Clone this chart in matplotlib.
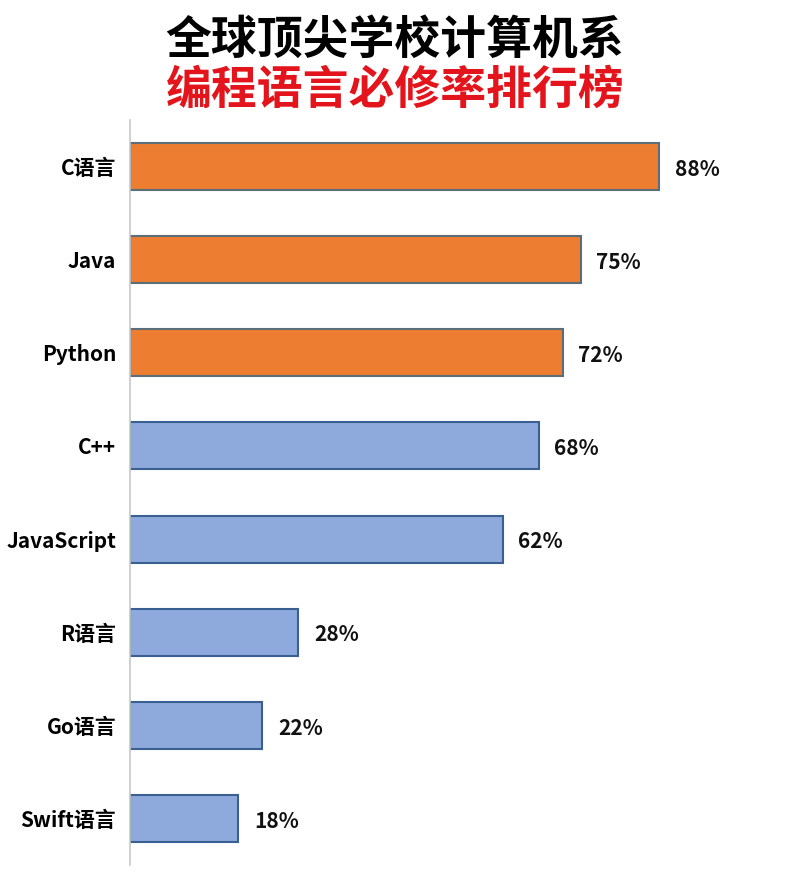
import matplotlib.pyplot as plt

plt.rcParams['font.family'] = ['Noto Sans CJK SC', 'DejaVu Sans']

languages = ['C语言', 'Java', 'Python', 'C++', 'JavaScript', 'R语言', 'Go语言', 'Swift语言']
rates = [88, 75, 72, 68, 62, 28, 22, 18]
top_group = [True, True, True, False, False, False, False, False]

fig = plt.figure(figsize=(7.9, 8.9), dpi=100)
W, H = 790, 890
# axes: x from 130 px to 790 px, y from 120 px to 865 px
ax = fig.add_axes([130 / W, 1 - 865 / H, 660 / W, 745 / H])

face = ['#ED7D31' if t else '#8EA9DB' for t in top_group]
edge = ['#5B6E7A' if t else '#3A5F92' for t in top_group]
ypos = list(range(len(languages)))
ax.barh(ypos, rates, height=0.505, color=face, edgecolor=edge, linewidth=1.5)

ax.set_xlim(0, 660 / 6.01)
ax.set_ylim(7.5, -0.5)
ax.set_yticks(ypos)
ax.set_yticklabels(languages, fontsize=15, fontweight='bold')
ax.tick_params(axis='y', length=0, pad=10)
ax.set_xticks([])
for s in ['top', 'right', 'bottom']:
    ax.spines[s].set_visible(False)
ax.spines['left'].set_color('#c8c8c8')
ax.spines['left'].set_linewidth(1.2)

for y, v in zip(ypos, rates):
    ax.text(v + 2.6, y + 0.03, f'{v}%', va='center', ha='left', fontsize=15, fontweight='bold', color='#111111')

fig.text(0.5, 1 - 41 / H, '全球顶尖学校计算机系', ha='center', va='center',
         fontsize=33, fontweight='bold', color='black')
fig.text(0.5, 1 - 91 / H, '编程语言必修率排行榜', ha='center', va='center',
         fontsize=33, fontweight='bold', color='#E3141B')

fig.savefig('out.png', dpi=100)
